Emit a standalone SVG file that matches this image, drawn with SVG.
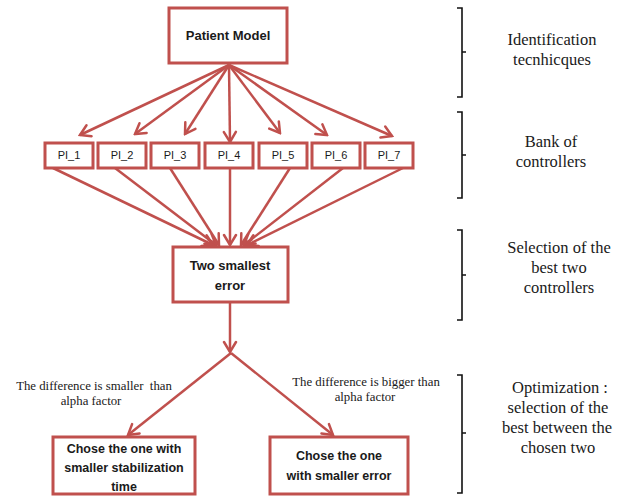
<svg xmlns="http://www.w3.org/2000/svg" width="628" height="498" viewBox="0 0 628 498">
<defs>
<marker id="arr" viewBox="-12 -8 14 16" refX="0" refY="0" markerWidth="14" markerHeight="16" markerUnits="userSpaceOnUse" orient="auto">
<path d="M-10,-6 L0,0 L-10,6" fill="none" stroke="#c0504d" stroke-width="2.5" stroke-linecap="round" stroke-linejoin="miter"/>
</marker>
<style>
.box{fill:#fff;stroke:#c0504d;stroke-width:3}
.c{fill:none;stroke:#c0504d;stroke-width:2.5;marker-end:url(#arr)}
.bt{font-family:"Liberation Sans",Arial,sans-serif;font-weight:bold;fill:#1a1a1a;text-anchor:middle}
.pi{font-family:"Liberation Sans",Arial,sans-serif;font-size:11px;fill:#1a1a1a;text-anchor:middle}
.st{font-family:"Liberation Serif","Times New Roman",serif;font-size:16.5px;fill:#1a1a1a;text-anchor:middle}
.lb{font-family:"Liberation Serif","Times New Roman",serif;font-size:12.8px;fill:#1a1a1a;text-anchor:middle}
.br{fill:none;stroke:#111;stroke-width:1.6}
</style>
</defs>
<rect width="628" height="498" fill="#fff"/>
<g id="connectors">
<line class="c" x1="229" y1="65" x2="80" y2="135"/>
<line class="c" x1="229" y1="65" x2="135" y2="134"/>
<line class="c" x1="229" y1="65" x2="185" y2="134"/>
<line class="c" x1="229" y1="65" x2="230" y2="142"/>
<line class="c" x1="229" y1="65" x2="280" y2="133"/>
<line class="c" x1="229" y1="65" x2="327" y2="135"/>
<line class="c" x1="229" y1="65" x2="392" y2="136"/>
<line class="c" x1="53" y1="168" x2="213" y2="245"/>
<line class="c" x1="115" y1="168" x2="216" y2="245"/>
<line class="c" x1="170" y1="168" x2="219" y2="245"/>
<line class="c" x1="230" y1="168" x2="230" y2="245"/>
<line class="c" x1="290" y1="168" x2="241" y2="245"/>
<line class="c" x1="343" y1="168" x2="244" y2="245"/>
<line class="c" x1="403" y1="168" x2="247" y2="245"/>
<line class="c" x1="230" y1="302" x2="230" y2="352"/>
<line class="c" x1="231" y1="353" x2="128" y2="435"/>
<line class="c" x1="231" y1="353" x2="333" y2="435"/>
</g>
<g id="patient-model"><rect class="box" x="169" y="8" width="118" height="55"/><text class="bt" x="228" y="40" font-size="13">Patient Model</text></g>
<g id="pi1"><rect class="box" x="45" y="143" width="48" height="25"/><text class="pi" x="69" y="159">PI_1</text></g>
<g id="pi2"><rect class="box" x="98" y="143" width="48" height="25"/><text class="pi" x="122" y="159">PI_2</text></g>
<g id="pi3"><rect class="box" x="151" y="143" width="48" height="25"/><text class="pi" x="175" y="159">PI_3</text></g>
<g id="pi4"><rect class="box" x="205" y="143" width="48" height="25"/><text class="pi" x="229" y="159">PI_4</text></g>
<g id="pi5"><rect class="box" x="259" y="143" width="48" height="25"/><text class="pi" x="283" y="159">PI_5</text></g>
<g id="pi6"><rect class="box" x="312" y="143" width="48" height="25"/><text class="pi" x="336" y="159">PI_6</text></g>
<g id="pi7"><rect class="box" x="365" y="143" width="48" height="25"/><text class="pi" x="389" y="159">PI_7</text></g>
<g id="two-smallest"><rect class="box" x="173" y="247" width="115" height="55"/><text class="bt" x="230" y="270" font-size="13">Two smallest</text><text class="bt" x="230" y="290" font-size="13">error</text></g>
<g id="chose-stab"><rect class="box" x="53" y="437" width="142" height="57"/><text class="bt" x="124" y="453" font-size="12.5">Chose the one with</text><text class="bt" x="124" y="472" font-size="12.5">smaller stabilization</text><text class="bt" x="124" y="491" font-size="12.5">time</text></g>
<g id="chose-err"><rect class="box" x="270" y="437" width="138" height="57"/><text class="bt" x="339" y="460" font-size="12.5">Chose the one</text><text class="bt" x="339" y="480" font-size="12.5">with smaller error</text></g>
<g id="labels">
<text class="lb" x="94" y="390" xml:space="preserve">The difference is smaller  than</text>
<text class="lb" x="91" y="405">alpha factor</text>
<text class="lb" x="366" y="386">The difference is bigger than</text>
<text class="lb" x="365" y="401">alpha factor</text>
</g>
<g id="stages">
<path class="br" d="M457,8 H462 V97 H457 M462,52 H466"/>
<path class="br" d="M457,112 H462 V198 H457 M462,155 H466"/>
<path class="br" d="M457,230 H462 V320 H457 M462,275 H466"/>
<path class="br" d="M457,375 H462 V493 H457 M462,433 H466"/>
<text class="st" x="552" y="45">Identification</text>
<text class="st" x="552" y="65">tecnhicques</text>
<text class="st" x="551" y="147">Bank of</text>
<text class="st" x="551" y="167">controllers</text>
<text class="st" x="559" y="253">Selection of the</text>
<text class="st" x="559" y="273">best two</text>
<text class="st" x="559" y="293">controllers</text>
<text class="st" x="560" y="393">Optimization :</text>
<text class="st" x="558" y="413">selection of the</text>
<text class="st" x="557" y="433">best between the</text>
<text class="st" x="558" y="453">chosen two</text>
</g>
</svg>
